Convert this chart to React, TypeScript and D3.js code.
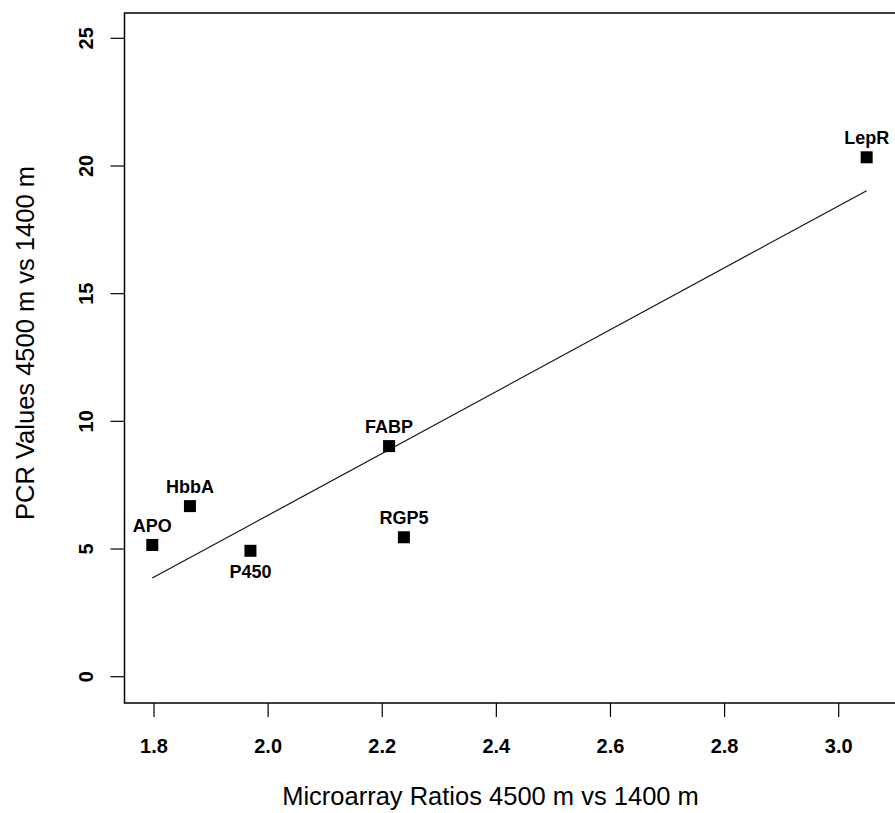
import React from "react";
import * as d3 from "d3";

const genes = ["APO", "HbbA", "P450", "FABP", "RGP5", "LepR"];
const microarrayRatios = [1.797, 1.863, 1.969, 2.212, 2.238, 3.049];
const pcrValues = [5.16, 6.68, 4.93, 9.03, 5.46, 20.34];
const labelBelow = [false, false, true, false, false, false];
const xTicks = [1.8, 2.0, 2.2, 2.4, 2.6, 2.8, 3.0];
const yTicks = [0, 5, 10, 15, 20, 25];

const W = 895;
const H = 813;
const FONT = "'Liberation Sans', Arial, Helvetica, sans-serif";

export default function App() {
  const x = d3.scaleLinear().domain([1.8, 3.0]).range([154, 838.7]);
  const y = d3.scaleLinear().domain([0, 25]).range([676.7, 38.3]);
  const frame = { left: 124.5, top: 13, bottom: 703, right: 905 };

  const n = microarrayRatios.length;
  const mx = d3.mean(microarrayRatios) as number;
  const my = d3.mean(pcrValues) as number;
  let sxy = 0;
  let sxx = 0;
  for (let i = 0; i < n; i++) {
    sxy += (microarrayRatios[i] - mx) * (pcrValues[i] - my);
    sxx += (microarrayRatios[i] - mx) ** 2;
  }
  const slope = sxy / sxx;
  const intercept = my - slope * mx;
  const [x0, x1] = d3.extent(microarrayRatios) as [number, number];
  const fitLine = d3
    .line<number>()
    .x((v) => x(v))
    .y((v) => y(intercept + slope * v))([x0, x1]);

  const sq = 12;

  return (
    <svg
      width={W}
      height={H}
      style={{ position: "absolute", left: 0, top: 0, background: "#fff" }}
      fontFamily={FONT}
    >
      <rect x={0} y={0} width={W} height={H} fill="#fff" />
      {/* frame */}
      <path
        d={`M${frame.right},${frame.top}H${frame.left}V${frame.bottom}H${frame.right}`}
        fill="none"
        stroke="#000"
        strokeWidth={1.5}
      />
      {/* x ticks */}
      {xTicks.map((t) => (
        <g key={"x" + t}>
          <line x1={x(t)} x2={x(t)} y1={frame.bottom} y2={frame.bottom + 14} stroke="#000" strokeWidth={1.2} />
          <text x={x(t)} y={753} textAnchor="middle" fontSize={20} fontWeight="bold" fill="#000">
            {t.toFixed(1)}
          </text>
        </g>
      ))}
      {/* y ticks */}
      {yTicks.map((t) => (
        <g key={"y" + t}>
          <line x1={frame.left - 14} x2={frame.left} y1={y(t)} y2={y(t)} stroke="#000" strokeWidth={1.2} />
          <text
            transform={`translate(93,${y(t)}) rotate(-90)`}
            textAnchor="middle"
            fontSize={20}
            fontWeight="bold"
            fill="#000"
          >
            {t}
          </text>
        </g>
      ))}
      {/* axis titles */}
      <text x={490.5} y={805} textAnchor="middle" fontSize={25.5} fill="#000">
        Microarray Ratios 4500 m vs 1400 m
      </text>
      <text transform={`translate(34,343) rotate(-90)`} textAnchor="middle" fontSize={25.5} fill="#000">
        PCR Values 4500 m vs 1400 m
      </text>
      {/* regression line */}
      <path d={fitLine || ""} fill="none" stroke="#111" strokeWidth={1.2} />
      {/* points */}
      {genes.map((g, i) => {
        const px = x(microarrayRatios[i]);
        const py = y(pcrValues[i]);
        return (
          <g key={g}>
            <rect x={px - sq / 2} y={py - sq / 2} width={sq} height={sq} fill="#000" />
            <text
              x={px}
              y={labelBelow[i] ? py + sq / 2 + 21 : py - sq / 2 - 7}
              textAnchor="middle"
              fontSize={18}
              fontWeight="bold"
              fill="#000"
            >
              {g}
            </text>
          </g>
        );
      })}
    </svg>
  );
}
